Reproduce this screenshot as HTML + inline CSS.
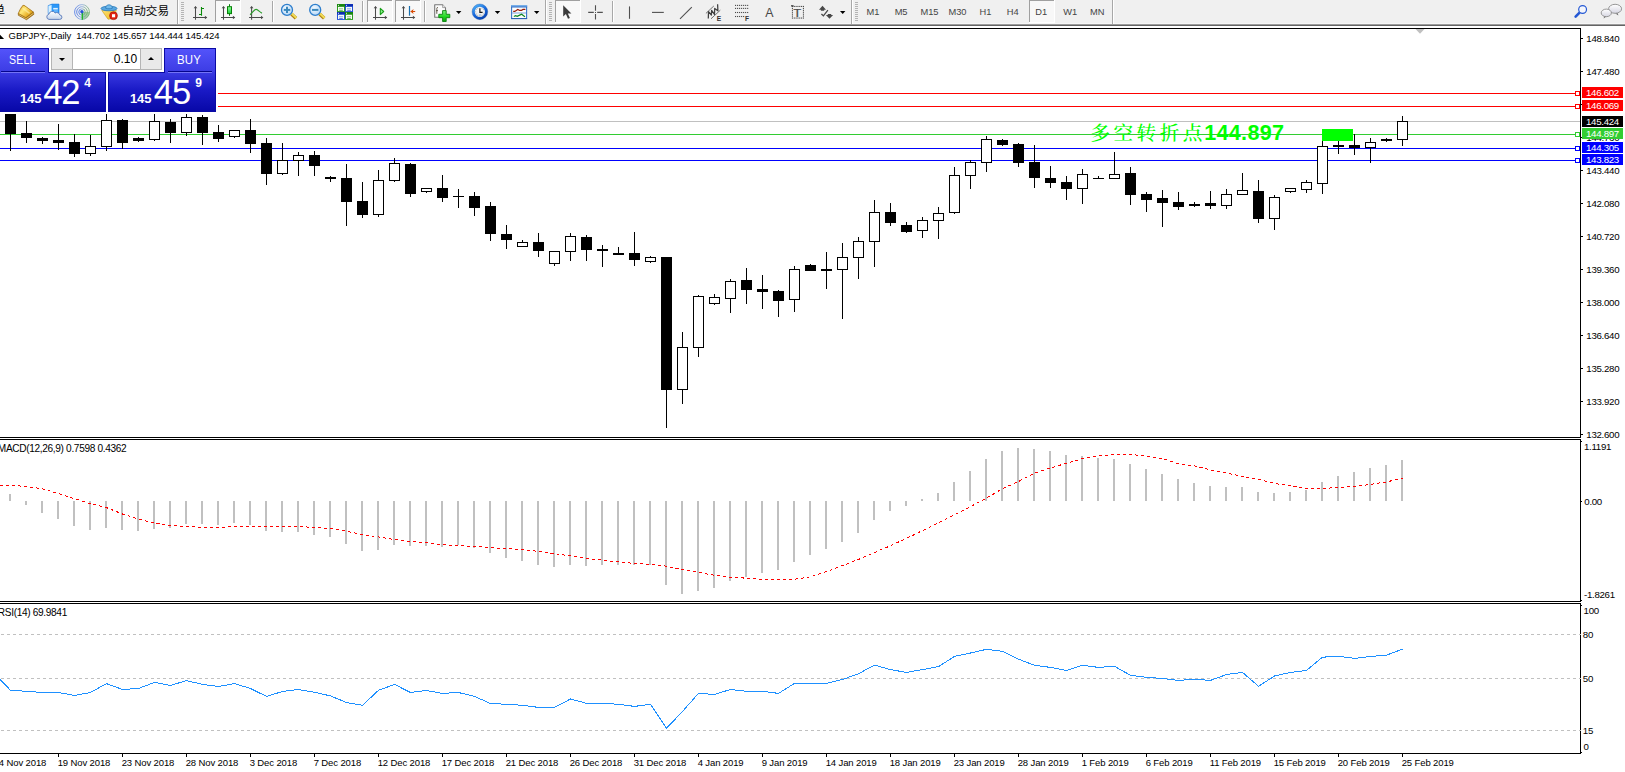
<!DOCTYPE html>
<html><head><meta charset="utf-8"><title>GBPJPY Daily</title>
<style>
html,body{margin:0;padding:0;background:#fff;}
body{width:1625px;height:772px;overflow:hidden;position:relative;font-family:"Liberation Sans", "Noto Sans CJK SC", sans-serif;}
#tb{position:absolute;left:0;top:0;width:1625px;height:24px;background:#f0f0f0;}
#tbl0{position:absolute;left:0;top:23px;width:1625px;height:1px;background:#f6f6f6;}
#tbl1{position:absolute;left:0;top:24px;width:1625px;height:1px;background:#9c9c9c;}
#tbl2{position:absolute;left:0;top:25px;width:1625px;height:1px;background:#646464;}
#chart{position:absolute;left:0;top:0;}
.ax{position:absolute;font-size:9.7px;line-height:11px;height:11px;white-space:nowrap;color:#000;letter-spacing:-0.3px;}
.dt{font-size:9.5px;letter-spacing:-0.12px;}
.bx{position:absolute;left:1582px;width:41px;height:11px;}
.ttl{font-size:9.5px;letter-spacing:-0.07px;}
.ind{font-size:10.1px;letter-spacing:-0.33px;}
.note{position:absolute;height:30px;line-height:30px;white-space:nowrap;color:#00ff00;}
.cj{font-family:"Liberation Serif","Noto Serif CJK SC",serif;font-weight:500;font-size:19.6px;letter-spacing:3.5px;}
.nm{font-family:"Liberation Sans",sans-serif;font-weight:bold;font-size:21.6px;letter-spacing:0.3px;}
#panel{position:absolute;left:0;top:0;}
.pb{position:absolute;}
.selltab{left:0;top:48px;width:49px;height:24px;background:linear-gradient(#5454fb,#3c3ce4);}
.buytab{left:164px;top:48px;width:52px;height:24px;background:linear-gradient(#5454fb,#3c3ce4);}
.sellbot{left:0;top:72px;width:106px;height:40px;background:linear-gradient(#3a3ae2,#1a1ac6 45%,#0707a6);}
.buybot{left:108px;top:72px;width:108px;height:40px;background:linear-gradient(#3a3ae2,#1a1ac6 45%,#0707a6);}
.sep{position:absolute;top:71px;height:1px;background:#04048c;border-bottom:1px solid #7474f6;}
.ptxt{position:absolute;color:#fff;font-size:12px;line-height:16px;letter-spacing:0.2px;transform-origin:0 50%;}
.lot{position:absolute;left:51px;top:48.4px;width:111px;height:22px;box-sizing:border-box;border:1px solid #a5a5a5;background:#fff;}
.lb{position:absolute;top:0;width:20px;height:20px;background:#e9e9e9;box-shadow:0 0 0 1px #b5b5b5;}
.lv{position:absolute;right:23.8px;top:3px;font-size:12px;line-height:15px;color:#000;}
.dn,.up{position:absolute;left:7px;width:0;height:0;border-left:3px solid transparent;border-right:3px solid transparent;}
.dn{top:8.2px;border-top:3.3px solid #000;}
.up{top:7.4px;border-bottom:3.3px solid #000;}
.sm{position:absolute;color:#fff;font-weight:bold;font-size:13px;line-height:15px;}
.sup{font-size:12px;}
.bg{position:absolute;color:#fff;font-size:34.6px;line-height:38px;letter-spacing:-1.1px;}
</style></head>
<body>
<svg id="chart" width="1625" height="772" viewBox="0 0 1625 772">
<g shape-rendering="crispEdges">
<rect x="218" y="93" width="1362" height="1" fill="#ff0000"/>
<rect x="218" y="106" width="1362" height="1" fill="#ff0000"/>
<rect x="0" y="121" width="1580" height="1" fill="#c0c0c0"/>
<rect x="0" y="134" width="1580" height="1" fill="#32cd32"/>
<rect x="0" y="148" width="1580" height="1" fill="#0000ff"/>
<rect x="0" y="160" width="1580" height="1" fill="#0000ff"/>
</g>
<g shape-rendering="crispEdges">
<rect x="10" y="114" width="1" height="37" fill="#000"/>
<rect x="5" y="114" width="11" height="20" fill="#000"/>
<rect x="26" y="121" width="1" height="22" fill="#000"/>
<rect x="21" y="133" width="11" height="5" fill="#000"/>
<rect x="42" y="137" width="1" height="7" fill="#000"/>
<rect x="37" y="138" width="11" height="3" fill="#000"/>
<rect x="58" y="124" width="1" height="26" fill="#000"/>
<rect x="53" y="140" width="11" height="3" fill="#000"/>
<rect x="74" y="134" width="1" height="23" fill="#000"/>
<rect x="69" y="142" width="11" height="12" fill="#000"/>
<rect x="90" y="135" width="1" height="21" fill="#000"/>
<rect x="85" y="146" width="11" height="8" fill="#000"/>
<rect x="86" y="147" width="9" height="6" fill="#fff"/>
<rect x="106" y="114" width="1" height="37" fill="#000"/>
<rect x="101" y="120" width="11" height="27" fill="#000"/>
<rect x="102" y="121" width="9" height="25" fill="#fff"/>
<rect x="122" y="119" width="1" height="30" fill="#000"/>
<rect x="117" y="120" width="11" height="23" fill="#000"/>
<rect x="138" y="137" width="1" height="5" fill="#000"/>
<rect x="133" y="138" width="11" height="3" fill="#000"/>
<rect x="154" y="114" width="1" height="27" fill="#000"/>
<rect x="149" y="121" width="11" height="19" fill="#000"/>
<rect x="150" y="122" width="9" height="17" fill="#fff"/>
<rect x="170" y="119" width="1" height="24" fill="#000"/>
<rect x="165" y="122" width="11" height="11" fill="#000"/>
<rect x="186" y="114" width="1" height="22" fill="#000"/>
<rect x="181" y="117" width="11" height="16" fill="#000"/>
<rect x="182" y="118" width="9" height="14" fill="#fff"/>
<rect x="202" y="115" width="1" height="30" fill="#000"/>
<rect x="197" y="117" width="11" height="16" fill="#000"/>
<rect x="218" y="125" width="1" height="17" fill="#000"/>
<rect x="213" y="132" width="11" height="7" fill="#000"/>
<rect x="234" y="130" width="1" height="8" fill="#000"/>
<rect x="229" y="130" width="11" height="7" fill="#000"/>
<rect x="230" y="131" width="9" height="5" fill="#fff"/>
<rect x="250" y="119" width="1" height="34" fill="#000"/>
<rect x="245" y="130" width="11" height="14" fill="#000"/>
<rect x="266" y="138" width="1" height="47" fill="#000"/>
<rect x="261" y="143" width="11" height="31" fill="#000"/>
<rect x="282" y="143" width="1" height="32" fill="#000"/>
<rect x="277" y="160" width="11" height="14" fill="#000"/>
<rect x="278" y="161" width="9" height="12" fill="#fff"/>
<rect x="298" y="152" width="1" height="24" fill="#000"/>
<rect x="293" y="155" width="11" height="6" fill="#000"/>
<rect x="294" y="156" width="9" height="4" fill="#fff"/>
<rect x="314" y="151" width="1" height="25" fill="#000"/>
<rect x="309" y="155" width="11" height="11" fill="#000"/>
<rect x="330" y="176" width="1" height="6" fill="#000"/>
<rect x="325" y="177" width="11" height="2" fill="#000"/>
<rect x="346" y="164" width="1" height="62" fill="#000"/>
<rect x="341" y="178" width="11" height="24" fill="#000"/>
<rect x="362" y="182" width="1" height="36" fill="#000"/>
<rect x="357" y="201" width="11" height="14" fill="#000"/>
<rect x="378" y="170" width="1" height="47" fill="#000"/>
<rect x="373" y="180" width="11" height="35" fill="#000"/>
<rect x="374" y="181" width="9" height="33" fill="#fff"/>
<rect x="394" y="158" width="1" height="24" fill="#000"/>
<rect x="389" y="163" width="11" height="18" fill="#000"/>
<rect x="390" y="164" width="9" height="16" fill="#fff"/>
<rect x="410" y="163" width="1" height="34" fill="#000"/>
<rect x="405" y="164" width="11" height="30" fill="#000"/>
<rect x="426" y="188" width="1" height="5" fill="#000"/>
<rect x="421" y="188" width="11" height="4" fill="#000"/>
<rect x="422" y="189" width="9" height="2" fill="#fff"/>
<rect x="442" y="175" width="1" height="27" fill="#000"/>
<rect x="437" y="188" width="11" height="10" fill="#000"/>
<rect x="458" y="189" width="1" height="19" fill="#000"/>
<rect x="453" y="196" width="11" height="1" fill="#000"/>
<rect x="474" y="192" width="1" height="24" fill="#000"/>
<rect x="469" y="196" width="11" height="12" fill="#000"/>
<rect x="490" y="202" width="1" height="39" fill="#000"/>
<rect x="485" y="206" width="11" height="28" fill="#000"/>
<rect x="506" y="225" width="1" height="24" fill="#000"/>
<rect x="501" y="234" width="11" height="6" fill="#000"/>
<rect x="522" y="240" width="1" height="7" fill="#000"/>
<rect x="517" y="242" width="11" height="5" fill="#000"/>
<rect x="518" y="243" width="9" height="3" fill="#fff"/>
<rect x="538" y="233" width="1" height="24" fill="#000"/>
<rect x="533" y="242" width="11" height="9" fill="#000"/>
<rect x="554" y="251" width="1" height="15" fill="#000"/>
<rect x="549" y="251" width="11" height="13" fill="#000"/>
<rect x="550" y="252" width="9" height="11" fill="#fff"/>
<rect x="570" y="233" width="1" height="28" fill="#000"/>
<rect x="565" y="236" width="11" height="16" fill="#000"/>
<rect x="566" y="237" width="9" height="14" fill="#fff"/>
<rect x="586" y="235" width="1" height="26" fill="#000"/>
<rect x="581" y="237" width="11" height="13" fill="#000"/>
<rect x="602" y="245" width="1" height="22" fill="#000"/>
<rect x="597" y="249" width="11" height="2" fill="#000"/>
<rect x="618" y="247" width="1" height="8" fill="#000"/>
<rect x="613" y="253" width="11" height="2" fill="#000"/>
<rect x="634" y="232" width="1" height="34" fill="#000"/>
<rect x="629" y="253" width="11" height="7" fill="#000"/>
<rect x="650" y="256" width="1" height="7" fill="#000"/>
<rect x="645" y="257" width="11" height="5" fill="#000"/>
<rect x="646" y="258" width="9" height="3" fill="#fff"/>
<rect x="666" y="257" width="1" height="171" fill="#000"/>
<rect x="661" y="257" width="11" height="133" fill="#000"/>
<rect x="682" y="332" width="1" height="72" fill="#000"/>
<rect x="677" y="347" width="11" height="43" fill="#000"/>
<rect x="678" y="348" width="9" height="41" fill="#fff"/>
<rect x="698" y="295" width="1" height="62" fill="#000"/>
<rect x="693" y="296" width="11" height="52" fill="#000"/>
<rect x="694" y="297" width="9" height="50" fill="#fff"/>
<rect x="714" y="294" width="1" height="11" fill="#000"/>
<rect x="709" y="297" width="11" height="7" fill="#000"/>
<rect x="710" y="298" width="9" height="5" fill="#fff"/>
<rect x="730" y="279" width="1" height="34" fill="#000"/>
<rect x="725" y="281" width="11" height="18" fill="#000"/>
<rect x="726" y="282" width="9" height="16" fill="#fff"/>
<rect x="746" y="268" width="1" height="36" fill="#000"/>
<rect x="741" y="280" width="11" height="10" fill="#000"/>
<rect x="762" y="275" width="1" height="34" fill="#000"/>
<rect x="757" y="289" width="11" height="3" fill="#000"/>
<rect x="778" y="290" width="1" height="27" fill="#000"/>
<rect x="773" y="291" width="11" height="10" fill="#000"/>
<rect x="794" y="266" width="1" height="46" fill="#000"/>
<rect x="789" y="269" width="11" height="31" fill="#000"/>
<rect x="790" y="270" width="9" height="29" fill="#fff"/>
<rect x="810" y="264" width="1" height="7" fill="#000"/>
<rect x="805" y="265" width="11" height="6" fill="#000"/>
<rect x="826" y="252" width="1" height="37" fill="#000"/>
<rect x="821" y="269" width="11" height="2" fill="#000"/>
<rect x="842" y="243" width="1" height="76" fill="#000"/>
<rect x="837" y="257" width="11" height="13" fill="#000"/>
<rect x="838" y="258" width="9" height="11" fill="#fff"/>
<rect x="858" y="237" width="1" height="42" fill="#000"/>
<rect x="853" y="241" width="11" height="17" fill="#000"/>
<rect x="854" y="242" width="9" height="15" fill="#fff"/>
<rect x="874" y="200" width="1" height="67" fill="#000"/>
<rect x="869" y="212" width="11" height="30" fill="#000"/>
<rect x="870" y="213" width="9" height="28" fill="#fff"/>
<rect x="890" y="203" width="1" height="23" fill="#000"/>
<rect x="885" y="212" width="11" height="11" fill="#000"/>
<rect x="906" y="222" width="1" height="11" fill="#000"/>
<rect x="901" y="225" width="11" height="7" fill="#000"/>
<rect x="922" y="217" width="1" height="21" fill="#000"/>
<rect x="917" y="220" width="11" height="11" fill="#000"/>
<rect x="918" y="221" width="9" height="9" fill="#fff"/>
<rect x="938" y="207" width="1" height="32" fill="#000"/>
<rect x="933" y="213" width="11" height="8" fill="#000"/>
<rect x="934" y="214" width="9" height="6" fill="#fff"/>
<rect x="954" y="167" width="1" height="47" fill="#000"/>
<rect x="949" y="175" width="11" height="38" fill="#000"/>
<rect x="950" y="176" width="9" height="36" fill="#fff"/>
<rect x="970" y="160" width="1" height="29" fill="#000"/>
<rect x="965" y="162" width="11" height="14" fill="#000"/>
<rect x="966" y="163" width="9" height="12" fill="#fff"/>
<rect x="986" y="136" width="1" height="36" fill="#000"/>
<rect x="981" y="139" width="11" height="24" fill="#000"/>
<rect x="982" y="140" width="9" height="22" fill="#fff"/>
<rect x="1002" y="139" width="1" height="7" fill="#000"/>
<rect x="997" y="140" width="11" height="5" fill="#000"/>
<rect x="1018" y="143" width="1" height="24" fill="#000"/>
<rect x="1013" y="144" width="11" height="19" fill="#000"/>
<rect x="1034" y="145" width="1" height="43" fill="#000"/>
<rect x="1029" y="162" width="11" height="16" fill="#000"/>
<rect x="1050" y="166" width="1" height="22" fill="#000"/>
<rect x="1045" y="178" width="11" height="5" fill="#000"/>
<rect x="1066" y="176" width="1" height="24" fill="#000"/>
<rect x="1061" y="182" width="11" height="7" fill="#000"/>
<rect x="1082" y="169" width="1" height="35" fill="#000"/>
<rect x="1077" y="174" width="11" height="15" fill="#000"/>
<rect x="1078" y="175" width="9" height="13" fill="#fff"/>
<rect x="1098" y="176" width="1" height="3" fill="#000"/>
<rect x="1093" y="178" width="11" height="1" fill="#000"/>
<rect x="1114" y="152" width="1" height="27" fill="#000"/>
<rect x="1109" y="174" width="11" height="5" fill="#000"/>
<rect x="1110" y="175" width="9" height="3" fill="#fff"/>
<rect x="1130" y="167" width="1" height="38" fill="#000"/>
<rect x="1125" y="173" width="11" height="22" fill="#000"/>
<rect x="1146" y="192" width="1" height="20" fill="#000"/>
<rect x="1141" y="194" width="11" height="6" fill="#000"/>
<rect x="1162" y="190" width="1" height="37" fill="#000"/>
<rect x="1157" y="198" width="11" height="5" fill="#000"/>
<rect x="1178" y="192" width="1" height="18" fill="#000"/>
<rect x="1173" y="202" width="11" height="5" fill="#000"/>
<rect x="1194" y="202" width="1" height="5" fill="#000"/>
<rect x="1189" y="204" width="11" height="2" fill="#000"/>
<rect x="1210" y="191" width="1" height="18" fill="#000"/>
<rect x="1205" y="203" width="11" height="3" fill="#000"/>
<rect x="1226" y="189" width="1" height="20" fill="#000"/>
<rect x="1221" y="194" width="11" height="12" fill="#000"/>
<rect x="1222" y="195" width="9" height="10" fill="#fff"/>
<rect x="1242" y="173" width="1" height="22" fill="#000"/>
<rect x="1237" y="190" width="11" height="5" fill="#000"/>
<rect x="1238" y="191" width="9" height="3" fill="#fff"/>
<rect x="1258" y="180" width="1" height="43" fill="#000"/>
<rect x="1253" y="191" width="11" height="28" fill="#000"/>
<rect x="1274" y="195" width="1" height="35" fill="#000"/>
<rect x="1269" y="197" width="11" height="22" fill="#000"/>
<rect x="1270" y="198" width="9" height="20" fill="#fff"/>
<rect x="1290" y="188" width="1" height="5" fill="#000"/>
<rect x="1285" y="188" width="11" height="4" fill="#000"/>
<rect x="1286" y="189" width="9" height="2" fill="#fff"/>
<rect x="1306" y="180" width="1" height="13" fill="#000"/>
<rect x="1301" y="182" width="11" height="8" fill="#000"/>
<rect x="1302" y="183" width="9" height="6" fill="#fff"/>
<rect x="1322" y="141" width="1" height="53" fill="#000"/>
<rect x="1317" y="146" width="11" height="38" fill="#000"/>
<rect x="1318" y="147" width="9" height="36" fill="#fff"/>
<rect x="1338" y="141" width="1" height="13" fill="#000"/>
<rect x="1333" y="145" width="11" height="2" fill="#000"/>
<rect x="1354" y="134" width="1" height="21" fill="#000"/>
<rect x="1349" y="145" width="11" height="3" fill="#000"/>
<rect x="1370" y="138" width="1" height="25" fill="#000"/>
<rect x="1365" y="142" width="11" height="6" fill="#000"/>
<rect x="1366" y="143" width="9" height="4" fill="#fff"/>
<rect x="1386" y="138" width="1" height="4" fill="#000"/>
<rect x="1381" y="139" width="11" height="2" fill="#000"/>
<rect x="1402" y="116" width="1" height="30" fill="#000"/>
<rect x="1397" y="121" width="11" height="19" fill="#000"/>
<rect x="1398" y="122" width="9" height="17" fill="#fff"/>
</g>
<rect x="1322" y="129" width="31" height="12" fill="#00ff00" shape-rendering="crispEdges"/>
<g shape-rendering="crispEdges" fill="#c0c0c0">
<rect x="9" y="494" width="2" height="7"/>
<rect x="25" y="501" width="2" height="4"/>
<rect x="41" y="501" width="2" height="12"/>
<rect x="57" y="501" width="2" height="18"/>
<rect x="73" y="501" width="2" height="25"/>
<rect x="89" y="501" width="2" height="29"/>
<rect x="105" y="501" width="2" height="27"/>
<rect x="121" y="501" width="2" height="29"/>
<rect x="137" y="501" width="2" height="30"/>
<rect x="153" y="501" width="2" height="28"/>
<rect x="169" y="501" width="2" height="27"/>
<rect x="185" y="501" width="2" height="23"/>
<rect x="201" y="501" width="2" height="23"/>
<rect x="217" y="501" width="2" height="24"/>
<rect x="233" y="501" width="2" height="22"/>
<rect x="249" y="501" width="2" height="24"/>
<rect x="265" y="501" width="2" height="30"/>
<rect x="281" y="501" width="2" height="31"/>
<rect x="297" y="501" width="2" height="31"/>
<rect x="313" y="501" width="2" height="34"/>
<rect x="329" y="501" width="2" height="36"/>
<rect x="345" y="501" width="2" height="43"/>
<rect x="361" y="501" width="2" height="50"/>
<rect x="377" y="501" width="2" height="49"/>
<rect x="393" y="501" width="2" height="44"/>
<rect x="409" y="501" width="2" height="45"/>
<rect x="425" y="501" width="2" height="45"/>
<rect x="441" y="501" width="2" height="46"/>
<rect x="457" y="501" width="2" height="44"/>
<rect x="473" y="501" width="2" height="47"/>
<rect x="489" y="501" width="2" height="52"/>
<rect x="505" y="501" width="2" height="57"/>
<rect x="521" y="501" width="2" height="60"/>
<rect x="537" y="501" width="2" height="64"/>
<rect x="553" y="501" width="2" height="66"/>
<rect x="569" y="501" width="2" height="64"/>
<rect x="585" y="501" width="2" height="65"/>
<rect x="601" y="501" width="2" height="64"/>
<rect x="617" y="501" width="2" height="64"/>
<rect x="633" y="501" width="2" height="64"/>
<rect x="649" y="501" width="2" height="64"/>
<rect x="665" y="501" width="2" height="84"/>
<rect x="681" y="501" width="2" height="93"/>
<rect x="697" y="501" width="2" height="90"/>
<rect x="713" y="501" width="2" height="87"/>
<rect x="729" y="501" width="2" height="80"/>
<rect x="745" y="501" width="2" height="76"/>
<rect x="761" y="501" width="2" height="72"/>
<rect x="777" y="501" width="2" height="69"/>
<rect x="793" y="501" width="2" height="61"/>
<rect x="809" y="501" width="2" height="54"/>
<rect x="825" y="501" width="2" height="48"/>
<rect x="841" y="501" width="2" height="41"/>
<rect x="857" y="501" width="2" height="32"/>
<rect x="873" y="501" width="2" height="19"/>
<rect x="889" y="501" width="2" height="10"/>
<rect x="905" y="501" width="2" height="5"/>
<rect x="921" y="499" width="2" height="2"/>
<rect x="937" y="493" width="2" height="8"/>
<rect x="953" y="482" width="2" height="19"/>
<rect x="969" y="471" width="2" height="30"/>
<rect x="985" y="459" width="2" height="42"/>
<rect x="1001" y="451" width="2" height="50"/>
<rect x="1017" y="448" width="2" height="53"/>
<rect x="1033" y="449" width="2" height="52"/>
<rect x="1049" y="451" width="2" height="50"/>
<rect x="1065" y="455" width="2" height="46"/>
<rect x="1081" y="456" width="2" height="45"/>
<rect x="1097" y="458" width="2" height="43"/>
<rect x="1113" y="459" width="2" height="42"/>
<rect x="1129" y="464" width="2" height="37"/>
<rect x="1145" y="469" width="2" height="32"/>
<rect x="1161" y="474" width="2" height="27"/>
<rect x="1177" y="479" width="2" height="22"/>
<rect x="1193" y="483" width="2" height="18"/>
<rect x="1209" y="486" width="2" height="15"/>
<rect x="1225" y="487" width="2" height="14"/>
<rect x="1241" y="487" width="2" height="14"/>
<rect x="1257" y="492" width="2" height="9"/>
<rect x="1273" y="493" width="2" height="8"/>
<rect x="1289" y="492" width="2" height="9"/>
<rect x="1305" y="490" width="2" height="11"/>
<rect x="1321" y="482" width="2" height="19"/>
<rect x="1337" y="476" width="2" height="25"/>
<rect x="1353" y="472" width="2" height="29"/>
<rect x="1369" y="468" width="2" height="33"/>
<rect x="1385" y="465" width="2" height="36"/>
<rect x="1401" y="460" width="2" height="41"/>
</g>
<polyline points="0,486.0 10.5,485.4 26.5,486.4 42.5,488.9 58.5,493.5 74.5,498.7 90.5,503.8 106.5,507.6 122.5,514.0 138.5,519.2 154.5,522.9 170.5,525.4 186.5,526.4 202.5,527.5 218.5,527.5 234.5,526.4 250.5,526.4 266.5,526.4 282.5,526.4 298.5,526.4 314.5,527.5 330.5,528.5 346.5,531.2 362.5,534.5 378.5,537.0 394.5,539.5 410.5,541.6 426.5,542.6 442.5,544.7 458.5,545.5 474.5,546.5 490.5,547.6 506.5,548.6 522.5,549.4 538.5,551.5 554.5,553.6 570.5,556.0 586.5,558.5 602.5,560.2 618.5,561.9 634.5,563.5 650.5,564.5 666.5,566.2 682.5,569.8 698.5,572.4 714.5,575.3 730.5,577.2 746.5,578.2 762.5,579.3 778.5,579.3 794.5,579.3 810.5,576.8 826.5,571.6 842.5,565.6 858.5,559.4 874.5,552.5 890.5,545.7 906.5,538.4 922.5,530.6 938.5,522.9 954.5,514.6 970.5,506.7 986.5,498.0 1002.5,488.7 1018.5,481.5 1034.5,473.2 1050.5,468.0 1066.5,463.2 1082.5,458.7 1098.5,456.0 1114.5,454.5 1130.5,454.5 1146.5,456.0 1162.5,458.7 1178.5,463.8 1194.5,465.9 1210.5,470.0 1226.5,473.2 1242.5,476.3 1258.5,479.4 1274.5,483.5 1290.5,485.8 1306.5,488.5 1322.5,488.5 1338.5,487.5 1354.5,486.4 1370.5,484.4 1386.5,481.9 1402.5,478.3" fill="none" stroke="#ff0000" stroke-width="1" stroke-dasharray="3 3" shape-rendering="crispEdges"/>
<g shape-rendering="crispEdges" stroke="#c0c0c0" stroke-width="1" stroke-dasharray="3 3">
<line x1="1" y1="634.5" x2="1580" y2="634.5"/>
<line x1="1" y1="678.5" x2="1580" y2="678.5"/>
<line x1="1" y1="730.5" x2="1580" y2="730.5"/>
</g>
<polyline points="0,679.3 10.5,690.3 26.5,691.3 42.5,692.5 58.5,692.5 74.5,695.4 90.5,692.5 106.5,683.6 122.5,689.5 138.5,688.5 154.5,682.4 170.5,685.4 186.5,680.6 202.5,684.4 218.5,686.5 234.5,683.6 250.5,688.5 266.5,696.4 282.5,691.5 298.5,689.5 314.5,692.3 330.5,695.9 346.5,702.5 362.5,705.3 378.5,690.3 394.5,684.4 410.5,692.5 426.5,690.5 442.5,693.4 458.5,692.5 474.5,696.4 490.5,703.5 506.5,704.3 522.5,705.3 538.5,707.4 554.5,707.4 570.5,699.0 586.5,703.3 602.5,703.3 618.5,704.3 634.5,706.4 650.5,704.3 666.5,728.3 682.5,711.4 698.5,693.4 714.5,694.4 730.5,689.5 746.5,691.3 762.5,691.3 778.5,693.4 794.5,683.4 810.5,683.4 826.5,683.4 842.5,679.5 858.5,673.7 874.5,665.1 890.5,669.6 906.5,672.4 922.5,669.6 938.5,666.6 954.5,656.4 970.5,653.0 986.5,649.3 1002.5,651.3 1018.5,659.2 1034.5,665.3 1050.5,667.4 1066.5,670.4 1082.5,665.3 1098.5,667.4 1114.5,666.3 1130.5,675.3 1146.5,677.3 1162.5,678.5 1178.5,680.4 1194.5,679.3 1210.5,680.4 1226.5,674.5 1242.5,672.4 1258.5,686.3 1274.5,676.0 1290.5,672.4 1306.5,670.4 1322.5,657.2 1338.5,656.2 1354.5,658.4 1370.5,656.4 1386.5,655.2 1402.5,649.1" fill="none" stroke="#1e90ff" stroke-width="1" stroke-linejoin="round" shape-rendering="crispEdges"/>
<g shape-rendering="crispEdges" fill="#000">
<rect x="0" y="28" width="1581" height="1"/>
<rect x="0" y="437" width="1581" height="1"/>
<rect x="0" y="439" width="1581" height="1"/>
<rect x="0" y="601" width="1581" height="1"/>
<rect x="0" y="603" width="1581" height="1"/>
<rect x="0" y="753" width="1581" height="1"/>
<rect x="1580" y="28" width="1" height="410"/>
<rect x="1580" y="439" width="1" height="163"/>
<rect x="1580" y="603" width="1" height="151"/>
<rect x="1581" y="38" width="2" height="1"/>
<rect x="1581" y="71" width="2" height="1"/>
<rect x="1581" y="104" width="2" height="1"/>
<rect x="1581" y="137" width="2" height="1"/>
<rect x="1581" y="170" width="2" height="1"/>
<rect x="1581" y="203" width="2" height="1"/>
<rect x="1581" y="236" width="2" height="1"/>
<rect x="1581" y="269" width="2" height="1"/>
<rect x="1581" y="302" width="2" height="1"/>
<rect x="1581" y="335" width="2" height="1"/>
<rect x="1581" y="368" width="2" height="1"/>
<rect x="1581" y="401" width="2" height="1"/>
<rect x="1581" y="434" width="2" height="1"/>
<rect x="1581" y="441" width="1" height="1"/>
<rect x="1581" y="501" width="1" height="1"/>
<rect x="1581" y="600" width="1" height="1"/>
<rect x="1581" y="605" width="1" height="1"/>
<rect x="1581" y="752" width="1" height="1"/>
<rect x="58" y="753" width="1" height="4"/>
<rect x="122" y="753" width="1" height="4"/>
<rect x="186" y="753" width="1" height="4"/>
<rect x="250" y="753" width="1" height="4"/>
<rect x="314" y="753" width="1" height="4"/>
<rect x="378" y="753" width="1" height="4"/>
<rect x="442" y="753" width="1" height="4"/>
<rect x="506" y="753" width="1" height="4"/>
<rect x="570" y="753" width="1" height="4"/>
<rect x="634" y="753" width="1" height="4"/>
<rect x="698" y="753" width="1" height="4"/>
<rect x="762" y="753" width="1" height="4"/>
<rect x="826" y="753" width="1" height="4"/>
<rect x="890" y="753" width="1" height="4"/>
<rect x="954" y="753" width="1" height="4"/>
<rect x="1018" y="753" width="1" height="4"/>
<rect x="1082" y="753" width="1" height="4"/>
<rect x="1146" y="753" width="1" height="4"/>
<rect x="1210" y="753" width="1" height="4"/>
<rect x="1274" y="753" width="1" height="4"/>
<rect x="1338" y="753" width="1" height="4"/>
<rect x="1402" y="753" width="1" height="4"/>
</g>
<rect x="1580" y="634" width="1" height="1" fill="#c0c0c0" shape-rendering="crispEdges"/>
<rect x="1580" y="678" width="1" height="1" fill="#c0c0c0" shape-rendering="crispEdges"/>
<rect x="1580" y="730" width="1" height="1" fill="#c0c0c0" shape-rendering="crispEdges"/>
<polygon points="1415.5,29 1424.5,29 1420,33.8" fill="#c0c0c0"/>
<g shape-rendering="crispEdges">
<rect x="1575.5" y="91.5" width="4" height="4" fill="#fff" stroke="#ff0000" stroke-width="1"/>
<rect x="1575.5" y="104.5" width="4" height="4" fill="#fff" stroke="#ff0000" stroke-width="1"/>
<rect x="1575.5" y="132.5" width="4" height="4" fill="#fff" stroke="#32cd32" stroke-width="1"/>
<rect x="1575.5" y="146.5" width="4" height="4" fill="#fff" stroke="#0000ff" stroke-width="1"/>
<rect x="1575.5" y="158.5" width="4" height="4" fill="#fff" stroke="#0000ff" stroke-width="1"/>
</g>
<polygon points="0,34.8 4.1,39 0,39" fill="#000"/>
</svg>
<div class="note cj" style="left:1090.4px;top:119px;">多空转折点</div><div class="note nm" style="left:1204.2px;top:117.9px;">144.897</div>
<div class="ax" style="left:1586.3px;top:33.3px;">148.840</div>
<div class="ax" style="left:1586.3px;top:66.3px;">147.480</div>
<div class="ax" style="left:1586.3px;top:99.3px;">146.120</div>
<div class="ax" style="left:1586.3px;top:132.3px;">144.760</div>
<div class="ax" style="left:1586.3px;top:165.3px;">143.440</div>
<div class="ax" style="left:1586.3px;top:198.3px;">142.080</div>
<div class="ax" style="left:1586.3px;top:231.3px;">140.720</div>
<div class="ax" style="left:1586.3px;top:264.3px;">139.360</div>
<div class="ax" style="left:1586.3px;top:297.3px;">138.000</div>
<div class="ax" style="left:1586.3px;top:330.3px;">136.640</div>
<div class="ax" style="left:1586.3px;top:363.3px;">135.280</div>
<div class="ax" style="left:1586.3px;top:396.3px;">133.920</div>
<div class="ax" style="left:1586.3px;top:429.3px;">132.600</div>
<div class="bx" style="top:87px;background:#ff0000;"></div>
<div class="ax" style="left:1586.0px;top:86.9px;color:#fff;">146.602</div>
<div class="bx" style="top:100px;background:#ff0000;"></div>
<div class="ax" style="left:1586.0px;top:99.9px;color:#fff;">146.069</div>
<div class="bx" style="top:116px;background:#000000;"></div>
<div class="ax" style="left:1586.0px;top:115.60000000000001px;color:#fff;">145.424</div>
<div class="bx" style="top:128px;background:#32cd32;"></div>
<div class="ax" style="left:1586.0px;top:127.9px;color:#fff;">144.897</div>
<div class="bx" style="top:142px;background:#0000ff;"></div>
<div class="ax" style="left:1586.0px;top:141.9px;color:#fff;">144.305</div>
<div class="bx" style="top:154px;background:#0000ff;"></div>
<div class="ax" style="left:1586.0px;top:153.9px;color:#fff;">143.823</div>
<div class="ax" style="left:1584.0px;top:441.3px;">1.1191</div>
<div class="ax" style="left:1584.3px;top:496px;">0.00</div>
<div class="ax" style="left:1584px;top:589.3px;">-1.8261</div>
<div class="ax" style="left:1583.6px;top:605.2px;">100</div>
<div class="ax" style="left:1582.8px;top:629px;">80</div>
<div class="ax" style="left:1582.8px;top:673px;">50</div>
<div class="ax" style="left:1582.8px;top:725px;">15</div>
<div class="ax" style="left:1583.4px;top:741.2px;">0</div>
<div class="ax dt" style="left:-6.3px;top:757.2px;">14 Nov 2018</div>
<div class="ax dt" style="left:57.7px;top:757.2px;">19 Nov 2018</div>
<div class="ax dt" style="left:121.7px;top:757.2px;">23 Nov 2018</div>
<div class="ax dt" style="left:185.7px;top:757.2px;">28 Nov 2018</div>
<div class="ax dt" style="left:249.7px;top:757.2px;">3 Dec 2018</div>
<div class="ax dt" style="left:313.7px;top:757.2px;">7 Dec 2018</div>
<div class="ax dt" style="left:377.7px;top:757.2px;">12 Dec 2018</div>
<div class="ax dt" style="left:441.7px;top:757.2px;">17 Dec 2018</div>
<div class="ax dt" style="left:505.7px;top:757.2px;">21 Dec 2018</div>
<div class="ax dt" style="left:569.7px;top:757.2px;">26 Dec 2018</div>
<div class="ax dt" style="left:633.7px;top:757.2px;">31 Dec 2018</div>
<div class="ax dt" style="left:697.7px;top:757.2px;">4 Jan 2019</div>
<div class="ax dt" style="left:761.7px;top:757.2px;">9 Jan 2019</div>
<div class="ax dt" style="left:825.7px;top:757.2px;">14 Jan 2019</div>
<div class="ax dt" style="left:889.7px;top:757.2px;">18 Jan 2019</div>
<div class="ax dt" style="left:953.7px;top:757.2px;">23 Jan 2019</div>
<div class="ax dt" style="left:1017.7px;top:757.2px;">28 Jan 2019</div>
<div class="ax dt" style="left:1081.7px;top:757.2px;">1 Feb 2019</div>
<div class="ax dt" style="left:1145.7px;top:757.2px;">6 Feb 2019</div>
<div class="ax dt" style="left:1209.7px;top:757.2px;">11 Feb 2019</div>
<div class="ax dt" style="left:1273.7px;top:757.2px;">15 Feb 2019</div>
<div class="ax dt" style="left:1337.7px;top:757.2px;">20 Feb 2019</div>
<div class="ax dt" style="left:1401.7px;top:757.2px;">25 Feb 2019</div>
<div class="ax ttl" style="left:8.6px;top:30.200000000000003px;">GBPJPY-,Daily&nbsp; 144.702 145.657 144.444 145.424</div>
<div class="ax ind" style="left:-2.2px;top:443.2px;">MACD(12,26,9) 0.7598 0.4362</div>
<div class="ax ind" style="left:-2.2px;top:607.2px;">RSI(14) 69.9841</div>

<div id="panel">
  <div class="pb" style="left:0;top:48px;width:216px;height:64px;background:#fff"></div>
  <div class="pb sellbot"></div>
  <div class="pb buybot"></div>
  <div class="pb selltab"></div>
  <div class="pb buytab"></div>
  <svg width="220" height="114" style="position:absolute;left:0;top:0" shape-rendering="crispEdges"><path d="M0 48.5H48.5V72.5H105.5V111.5H0M164.5 72.5V48.5H215.5V111.5H108.5V72.5H164.5" fill="none" stroke="#0a0aa4" stroke-width="1"/></svg>
  <div class="sep" style="left:1px;width:44px"></div>
  <div class="sep" style="left:168px;width:44px"></div>
  <div class="ptxt" style="left:9.2px;top:51.8px;transform:scaleX(.885);">SELL</div>
  <div class="ptxt" style="left:176.8px;top:51.8px;transform:scaleX(.955);">BUY</div>
  <div class="lot">
    <div class="lb" style="left:0"><i class="dn"></i></div>
    <div class="lv">0.10</div>
    <div class="lb" style="right:0"><i class="up"></i></div>
  </div>
  <div class="sm" style="left:19.9px;top:90.6px;">145</div>
  <div class="bg" style="left:43.2px;top:72.9px;">42</div>
  <div class="sm sup" style="left:84.2px;top:75.6px;">4</div>
  <div class="sm" style="left:129.9px;top:90.6px;">145</div>
  <div class="bg" style="left:153.8px;top:72.9px;">45</div>
  <div class="sm sup" style="left:195.3px;top:75.6px;">9</div>
</div>

<div id="tb"></div><div id="tbl0"></div><div id="tbl1"></div><div id="tbl2"></div>
<svg id="tbi" width="1625" height="26" viewBox="0 0 1625 26" style="position:absolute;left:0;top:0">
<defs>
<linearGradient id="gold" x1="0" y1="0.1" x2="1" y2="0.9"><stop offset="0" stop-color="#e8b030"/><stop offset="0.35" stop-color="#ffe878"/><stop offset="0.7" stop-color="#e8b028"/><stop offset="1" stop-color="#c48c14"/></linearGradient>
<linearGradient id="sig" x1="0" y1="0" x2="1" y2="0"><stop offset="0" stop-color="#3c6ce4"/><stop offset="0.5" stop-color="#88a8dc"/><stop offset="1" stop-color="#68a868"/></linearGradient>
<linearGradient id="yel" x1="0" y1="0" x2="1" y2="1"><stop offset="0" stop-color="#fce070"/><stop offset="1" stop-color="#f0b820"/></linearGradient>
<linearGradient id="blu" x1="0" y1="0" x2="0" y2="1"><stop offset="0" stop-color="#6db4f0"/><stop offset="1" stop-color="#1f6fd0"/></linearGradient>
<linearGradient id="cld" x1="0" y1="0" x2="0" y2="1"><stop offset="0" stop-color="#ffffff"/><stop offset="1" stop-color="#c4d4ea"/></linearGradient>
<linearGradient id="cnd" x1="0" y1="0" x2="0" y2="1"><stop offset="0" stop-color="#90ff98"/><stop offset="1" stop-color="#18d038"/></linearGradient>
<linearGradient id="ring" x1="0.2" y1="0" x2="0.8" y2="1"><stop offset="0" stop-color="#48a8f4"/><stop offset="0.5" stop-color="#1868dc"/><stop offset="1" stop-color="#0a44b0"/></linearGradient>
<radialGradient id="face" cx="0.5" cy="0.4" r="0.6"><stop offset="0" stop-color="#ffffff"/><stop offset="1" stop-color="#dcdcdc"/></radialGradient>
<linearGradient id="ttl" x1="0" y1="0" x2="0" y2="1"><stop offset="0" stop-color="#8cc0f0"/><stop offset="1" stop-color="#2c6cc8"/></linearGradient>
<linearGradient id="grn" x1="0" y1="0" x2="0" y2="1"><stop offset="0" stop-color="#7cf07c"/><stop offset="0.55" stop-color="#22d822"/><stop offset="1" stop-color="#10a010"/></linearGradient>
<radialGradient id="lens" cx="0.4" cy="0.35" r="0.7"><stop offset="0" stop-color="#f2f9ff"/><stop offset="1" stop-color="#b4d6f6"/></radialGradient>
<linearGradient id="bub" x1="0" y1="0" x2="0" y2="1"><stop offset="0" stop-color="#ffffff"/><stop offset="1" stop-color="#d6d6e2"/></linearGradient>
</defs>
<path d="M18.3 13.4L25.8 17.7L33.3 12L33.9 14.3L26.5 19.7L18.4 15.3Z" fill="#b47c14" stroke="#8a5a0a" stroke-width="0.7" stroke-linejoin="round"/>
<path d="M18.8 14.5L26.2 18.7L33.5 13.2" fill="none" stroke="#f4dc88" stroke-width="0.7"/>
<path d="M24 5.3C27 7.4 30.4 9.8 33.3 12L25.8 17.7L18.3 13.4C19.4 10.8 20.6 8.4 22 6.4C22.6 5.6 23.4 5.2 24 5.3Z" fill="url(#gold)" stroke="#a06c0c" stroke-width="0.8" stroke-linejoin="round"/>
<path d="M22.6 8.2L29.6 13.4" fill="none" stroke="#fff6b8" stroke-width="1.6" opacity="0.55"/>
<path d="M48.2 5.6L52 4.1H59V13.6H48.2Z" fill="#2c98f8" stroke="#1c78dc" stroke-width="0.6"/>
<path d="M48.4 5.8L51.6 5V13.4H48.4Z" fill="#d8f0ff"/>
<rect x="53.2" y="7.9" width="4.6" height="1.6" fill="#e8f6ff" opacity="0.95"/>
<rect x="54" y="10.6" width="3.8" height="0.8" fill="#bfe2ff" opacity="0.9"/>
<path d="M49 19.4a2.6 2.6 0 0 1-0.2-5.1a3.5 3.5 0 0 1 6.4-1.3a3.1 3.1 0 0 1 4.6 2a2.2 2.2 0 0 1-0.2 4.4Z" fill="url(#cld)" stroke="#5878b8" stroke-width="0.9"/>
<path d="M82 12V19.7A7.7 7.7 0 0 0 89.7 12Z" fill="#58b058" opacity="0.5"/>
<circle cx="82" cy="12" r="7.4" fill="none" stroke="url(#sig)" stroke-width="1" opacity="0.75"/>
<circle cx="82" cy="12" r="5.3" fill="none" stroke="url(#sig)" stroke-width="1" opacity="0.8"/>
<circle cx="82" cy="12" r="3.2" fill="none" stroke="url(#sig)" stroke-width="1" opacity="0.85"/>
<path d="M82.3 12V19.7" stroke="#20b428" stroke-width="1.4"/>
<circle cx="81.9" cy="11.7" r="1.7" fill="#2454d4"/>
<path d="M101.8 10.4L116.4 10.4L111.6 18.8L108 19.2Z" fill="url(#yel)" stroke="#c89c18" stroke-width="0.6" stroke-linejoin="round"/>
<ellipse cx="109" cy="8.5" rx="8" ry="2.3" fill="#5aa8e2" stroke="#2878b8" stroke-width="0.8"/>
<path d="M105.6 8.2C105.6 3.7 112.4 3.7 112.4 8.2C110.4 9 107.6 9 105.6 8.2Z" fill="#74bcec" stroke="#2878b8" stroke-width="0.8"/>
<circle cx="113.5" cy="15.7" r="3.9" fill="#e42410" stroke="#a41408" stroke-width="0.7"/>
<rect x="112" y="14.2" width="3.1" height="3.1" fill="#fff"/>
<rect x="177" y="0" width="1" height="24" fill="#a8a8a8"/><rect x="178" y="0" width="1" height="24" fill="#ffffff"/>
<rect x="181" y="2" width="3" height="1" fill="#b4b4b4"/><rect x="181" y="4" width="3" height="1" fill="#b4b4b4"/><rect x="181" y="6" width="3" height="1" fill="#b4b4b4"/><rect x="181" y="8" width="3" height="1" fill="#b4b4b4"/><rect x="181" y="10" width="3" height="1" fill="#b4b4b4"/><rect x="181" y="12" width="3" height="1" fill="#b4b4b4"/><rect x="181" y="14" width="3" height="1" fill="#b4b4b4"/><rect x="181" y="16" width="3" height="1" fill="#b4b4b4"/><rect x="181" y="18" width="3" height="1" fill="#b4b4b4"/><rect x="181" y="20" width="3" height="1" fill="#b4b4b4"/>
<path d="M195.5 6.8V19.8M193.0 17.5H206.5" stroke="#4a4a4a" stroke-width="1.05" fill="none"/><path d="M193.7 8.2L195.5 6L197.3 8.2Z M204.9 15.8L207.3 17.5L204.9 19.2Z" fill="#4a4a4a"/>
<path d="M199 14.5H201.5M201.5 15.8V7.1M201.5 8.5H204" fill="none" stroke="#0a8a0a" stroke-width="1.1"/>
<rect x="215" y="0" width="26" height="23" fill="#f8f8f8"/><rect x="215" y="0" width="25" height="1" fill="#a0a0a0"/><rect x="215" y="0" width="1" height="22" fill="#a0a0a0"/><rect x="240" y="0" width="1" height="23" fill="#ffffff"/><rect x="215" y="22" width="26" height="1" fill="#ffffff"/>
<path d="M223.5 6.8V19.8M221.0 17.5H234.5" stroke="#4a4a4a" stroke-width="1.05" fill="none"/><path d="M221.7 8.2L223.5 6L225.3 8.2Z M232.9 15.8L235.3 17.5L232.9 19.2Z" fill="#4a4a4a"/>
<path d="M229.5 4.2V15.8" stroke="#088008" stroke-width="1.05"/>
<rect x="227.5" y="6.7" width="4" height="6.9" fill="url(#cnd)" stroke="#088008" stroke-width="1"/>
<path d="M251.6 6.8V19.8M249.1 17.5H262.6" stroke="#4a4a4a" stroke-width="1.05" fill="none"/><path d="M249.79999999999998 8.2L251.6 6L253.4 8.2Z M261.0 15.8L263.4 17.5L261.0 19.2Z" fill="#4a4a4a"/>
<path d="M250.1 14.8C252.6 12.6 254.2 9.4 256.2 9.4C258.2 9.4 259.4 12 262 13.1" fill="none" stroke="#2c9c2c" stroke-width="1.15"/>
<rect x="272" y="1" width="1" height="21" fill="#a8a8a8"/><rect x="273" y="1" width="1" height="21" fill="#ffffff"/>
<path d="M291.4 14L296.0 18.2" stroke="#b08010" stroke-width="3.5" stroke-linecap="butt"/>
<path d="M291.7 13.6L296.4 17.9" stroke="#f0dc58" stroke-width="2.1" stroke-linecap="butt"/>
<circle cx="287.0" cy="9.9" r="5.5" fill="url(#lens)" stroke="#2e7ecc" stroke-width="1.3"/>
<path d="M283.8 9.9H290.2" stroke="#3a88bc" stroke-width="2"/>
<path d="M287.0 6.7V13.1" stroke="#3a88bc" stroke-width="2"/>
<path d="M319.59999999999997 14L324.2 18.2" stroke="#b08010" stroke-width="3.5" stroke-linecap="butt"/>
<path d="M319.9 13.6L324.59999999999997 17.9" stroke="#f0dc58" stroke-width="2.1" stroke-linecap="butt"/>
<circle cx="315.2" cy="9.9" r="5.5" fill="url(#lens)" stroke="#2e7ecc" stroke-width="1.3"/>
<path d="M312.0 9.9H318.4" stroke="#3a88bc" stroke-width="2"/>
<rect x="337" y="4.1" width="8" height="7.9" fill="#2c9c1c"/>
<rect x="337" y="4.1" width="8" height="2.2" fill="#188410"/>
<rect x="338" y="6.8999999999999995" width="6" height="4.2" fill="#f6faf6"/>
<rect x="338" y="4.8999999999999995" width="1" height="1" fill="#ffffff" opacity="0.85"/>
<rect x="339" y="8.2" width="4" height="1.2" fill="#2c9c1c" opacity="0.45"/>
<rect x="339.2" y="10.399999999999999" width="3.6" height="0.8" fill="#2c9c1c"/>
<rect x="345" y="4.1" width="8" height="7.9" fill="#2450d8"/>
<rect x="345" y="4.1" width="8" height="2.2" fill="#0c2cb0"/>
<rect x="346" y="6.8999999999999995" width="6" height="4.2" fill="#f6faf6"/>
<rect x="346" y="4.8999999999999995" width="1" height="1" fill="#ffffff" opacity="0.85"/>
<rect x="347" y="8.2" width="4" height="1.2" fill="#2450d8" opacity="0.45"/>
<rect x="347.2" y="10.399999999999999" width="3.6" height="0.8" fill="#2450d8"/>
<rect x="337" y="12" width="8" height="7.9" fill="#2450d8"/>
<rect x="337" y="12" width="8" height="2.2" fill="#0c2cb0"/>
<rect x="338" y="14.8" width="6" height="4.2" fill="#f6faf6"/>
<rect x="338" y="12.8" width="1" height="1" fill="#ffffff" opacity="0.85"/>
<rect x="339" y="16.1" width="4" height="1.2" fill="#2450d8" opacity="0.45"/>
<rect x="339.2" y="18.3" width="3.6" height="0.8" fill="#2450d8"/>
<rect x="345" y="12" width="8" height="7.9" fill="#2c9c1c"/>
<rect x="345" y="12" width="8" height="2.2" fill="#188410"/>
<rect x="346" y="14.8" width="6" height="4.2" fill="#f6faf6"/>
<rect x="346" y="12.8" width="1" height="1" fill="#ffffff" opacity="0.85"/>
<rect x="347" y="16.1" width="4" height="1.2" fill="#2c9c1c" opacity="0.45"/>
<rect x="347.2" y="18.3" width="3.6" height="0.8" fill="#2c9c1c"/>
<rect x="362" y="1" width="1" height="21" fill="#a8a8a8"/><rect x="363" y="1" width="1" height="21" fill="#ffffff"/>
<rect x="367" y="0" width="26" height="23" fill="#f8f8f8"/><rect x="367" y="0" width="25" height="1" fill="#a0a0a0"/><rect x="367" y="0" width="1" height="22" fill="#a0a0a0"/><rect x="392" y="0" width="1" height="23" fill="#ffffff"/><rect x="367" y="22" width="26" height="1" fill="#ffffff"/>
<path d="M375.5 6.8V19.8M373.0 17.5H386.5" stroke="#4a4a4a" stroke-width="1.05" fill="none"/><path d="M373.7 8.2L375.5 6L377.3 8.2Z M384.9 15.8L387.3 17.5L384.9 19.2Z" fill="#4a4a4a"/>
<path d="M380.3 8.4V14.6L383.7 11.5Z" fill="#90f090" stroke="#18a018" stroke-width="1.1" stroke-linejoin="round"/>
<rect x="395" y="0" width="26" height="23" fill="#f8f8f8"/><rect x="395" y="0" width="25" height="1" fill="#a0a0a0"/><rect x="395" y="0" width="1" height="22" fill="#a0a0a0"/><rect x="420" y="0" width="1" height="23" fill="#ffffff"/><rect x="395" y="22" width="26" height="1" fill="#ffffff"/>
<path d="M403.5 6.8V19.8M401.0 17.5H414.5" stroke="#4a4a4a" stroke-width="1.05" fill="none"/><path d="M401.7 8.2L403.5 6L405.3 8.2Z M412.9 15.8L415.3 17.5L412.9 19.2Z" fill="#4a4a4a"/>
<path d="M409.5 6V15.7" stroke="#1870b0" stroke-width="1.2"/>
<path d="M410.8 11.5H415.2" stroke="#d84800" stroke-width="1.1"/><path d="M410.4 11.5L413.6 9L412.8 11.5L413.6 14Z" fill="#d84800"/>
<rect x="424" y="1" width="1" height="21" fill="#a8a8a8"/><rect x="425" y="1" width="1" height="21" fill="#ffffff"/>
<path d="M434.7 4.7H442.4L445.5 7.8V17.2H434.7Z" fill="#fcfcfc" stroke="#787878" stroke-width="1.1" stroke-linejoin="round"/>
<path d="M442.6 4.6V7.6H445.6" fill="#e0e0e0" stroke="#8c8c8c" stroke-width="0.7"/>
<path d="M438 7.4C436.6 7.4 436.8 8.4 436.8 9.4V13.8M436 10.6H438" stroke="#5a5040" stroke-width="0.9" fill="none"/>
<path d="M442.6 10.6H446.2V14.3H449.8V17.7H446.2V21.5H442.6V17.7H438.8V14.3H442.6Z" fill="url(#grn)" stroke="#0c8410" stroke-width="0.9" stroke-linejoin="round"/>
<polygon points="456,10.9 461.4,10.9 458.7,14" fill="#000"/>
<circle cx="479.9" cy="11.8" r="6.5" fill="url(#face)" stroke="url(#ring)" stroke-width="2.7"/>
<circle cx="479.9" cy="11.8" r="7.85" fill="none" stroke="#0a3c98" stroke-width="0.4" opacity="0.7"/>
<path d="M479.9 8.2V12.3H482.6" fill="none" stroke="#181818" stroke-width="1.2"/>
<circle cx="482.00" cy="8.16" r="0.38" fill="#707880"/>
<circle cx="483.54" cy="9.70" r="0.38" fill="#707880"/>
<circle cx="483.54" cy="13.90" r="0.38" fill="#707880"/>
<circle cx="482.00" cy="15.44" r="0.38" fill="#707880"/>
<circle cx="479.90" cy="16.00" r="0.38" fill="#707880"/>
<circle cx="477.80" cy="15.44" r="0.38" fill="#707880"/>
<circle cx="476.26" cy="13.90" r="0.38" fill="#707880"/>
<circle cx="475.70" cy="11.80" r="0.38" fill="#707880"/>
<circle cx="476.26" cy="9.70" r="0.38" fill="#707880"/>
<circle cx="477.80" cy="8.16" r="0.38" fill="#707880"/>
<rect x="479.2" y="14.6" width="1.5" height="0.7" fill="#4a90e8"/>
<polygon points="494.8,10.9 500.2,10.9 497.5,14" fill="#000"/>
<rect x="511.6" y="5.7" width="15" height="12.9" fill="#fdfdfd" stroke="#3674c8" stroke-width="1.1"/>
<rect x="511.1" y="5.1" width="16" height="2.4" fill="url(#ttl)"/>
<rect x="511.1" y="18.1" width="16" height="0.9" fill="#2c60b0"/>
<rect x="512.2" y="12.5" width="13.8" height="1" fill="#7ca4dc"/>
<path d="M513.2 11.4H514.8L516.6 10.2L517.8 9.4L519.6 10.4H521.4L523 9.4H525.4" fill="none" stroke="#981c08" stroke-width="1.2"/>
<path d="M513.8 16.6L515.6 15.6L517.2 16.4L519.2 15.4L521.6 14.2L523.6 15.8L525 16.8" fill="none" stroke="#0c8420" stroke-width="1.2"/>
<polygon points="534,10.9 539.4,10.9 536.7,14" fill="#000"/>
<rect x="545" y="0" width="1" height="24" fill="#a8a8a8"/><rect x="546" y="0" width="1" height="24" fill="#ffffff"/>
<rect x="549" y="2" width="3" height="1" fill="#b4b4b4"/><rect x="549" y="4" width="3" height="1" fill="#b4b4b4"/><rect x="549" y="6" width="3" height="1" fill="#b4b4b4"/><rect x="549" y="8" width="3" height="1" fill="#b4b4b4"/><rect x="549" y="10" width="3" height="1" fill="#b4b4b4"/><rect x="549" y="12" width="3" height="1" fill="#b4b4b4"/><rect x="549" y="14" width="3" height="1" fill="#b4b4b4"/><rect x="549" y="16" width="3" height="1" fill="#b4b4b4"/><rect x="549" y="18" width="3" height="1" fill="#b4b4b4"/><rect x="549" y="20" width="3" height="1" fill="#b4b4b4"/>
<rect x="555" y="0" width="26" height="23" fill="#f8f8f8"/><rect x="555" y="0" width="25" height="1" fill="#a0a0a0"/><rect x="555" y="0" width="1" height="22" fill="#a0a0a0"/><rect x="580" y="0" width="1" height="23" fill="#ffffff"/><rect x="555" y="22" width="26" height="1" fill="#ffffff"/>
<path d="M563.2 5.2L563.2 16.6L565.9 14.1L568 18.8L569.9 18L567.8 13.4L571.4 13.4Z" fill="#3c3c3c"/>
<path d="M588.2 12.4H593.8M597.2 12.4H602.8M595.5 5.2V10.8M595.5 14V19.4" stroke="#505050" stroke-width="1.1"/>
<rect x="595" y="12" width="1" height="1" fill="#505050"/>
<rect x="612" y="1" width="1" height="21" fill="#a8a8a8"/><rect x="613" y="1" width="1" height="21" fill="#ffffff"/>
<path d="M629.5 6.4V18.8" stroke="#505050" stroke-width="1.1"/>
<path d="M652 12.4H663.8" stroke="#505050" stroke-width="1.1"/>
<path d="M680 18.8L691.8 7.2" stroke="#505050" stroke-width="1.1"/>
<g stroke="#505050" stroke-width="0.8" fill="none">
<path d="M705.9 13.4L713.8 6M711 18.8L720.3 10.2"/>
</g>
<path d="M708.3 18.6L708.5 11.6L711.4 15L711.6 10.4L714.5 14.4L714.7 8.4L717.9 10.8L717.6 4.2" fill="none" stroke="#404040" stroke-width="1.25" stroke-linejoin="round"/>
<text x="716.8" y="20.8" font-family="Liberation Sans, sans-serif" font-size="6.6" font-weight="bold" fill="#303030">E</text>
<rect x="735.00" y="4.85" width="1.1" height="1.1" fill="#484848"/>
<rect x="737.02" y="4.85" width="1.1" height="1.1" fill="#484848"/>
<rect x="739.04" y="4.85" width="1.1" height="1.1" fill="#484848"/>
<rect x="741.06" y="4.85" width="1.1" height="1.1" fill="#484848"/>
<rect x="743.08" y="4.85" width="1.1" height="1.1" fill="#484848"/>
<rect x="745.10" y="4.85" width="1.1" height="1.1" fill="#484848"/>
<rect x="747.12" y="4.85" width="1.1" height="1.1" fill="#484848"/>
<rect x="735.00" y="7.85" width="1.1" height="1.1" fill="#484848"/>
<rect x="737.02" y="7.85" width="1.1" height="1.1" fill="#484848"/>
<rect x="739.04" y="7.85" width="1.1" height="1.1" fill="#484848"/>
<rect x="741.06" y="7.85" width="1.1" height="1.1" fill="#484848"/>
<rect x="743.08" y="7.85" width="1.1" height="1.1" fill="#484848"/>
<rect x="745.10" y="7.85" width="1.1" height="1.1" fill="#484848"/>
<rect x="747.12" y="7.85" width="1.1" height="1.1" fill="#484848"/>
<rect x="735.00" y="11.95" width="1.1" height="1.1" fill="#484848"/>
<rect x="737.02" y="11.95" width="1.1" height="1.1" fill="#484848"/>
<rect x="739.04" y="11.95" width="1.1" height="1.1" fill="#484848"/>
<rect x="741.06" y="11.95" width="1.1" height="1.1" fill="#484848"/>
<rect x="743.08" y="11.95" width="1.1" height="1.1" fill="#484848"/>
<rect x="745.10" y="11.95" width="1.1" height="1.1" fill="#484848"/>
<rect x="747.12" y="11.95" width="1.1" height="1.1" fill="#484848"/>
<rect x="735.00" y="15.95" width="1.1" height="1.1" fill="#484848"/>
<rect x="737.02" y="15.95" width="1.1" height="1.1" fill="#484848"/>
<rect x="739.04" y="15.95" width="1.1" height="1.1" fill="#484848"/>
<rect x="741.06" y="15.95" width="1.1" height="1.1" fill="#484848"/>
<rect x="743.08" y="15.95" width="1.1" height="1.1" fill="#484848"/>
<text x="744.9" y="20.8" font-family="Liberation Sans, sans-serif" font-size="6.6" font-weight="bold" fill="#303030">F</text>
<text x="765.3" y="16.9" font-family="Liberation Sans, sans-serif" font-size="12.4" fill="#484848">A</text>
<rect x="791.90" y="5.9" width="1.1" height="1.1" fill="#484848"/><rect x="791.90" y="17.5" width="1.1" height="1.1" fill="#484848"/>
<rect x="793.73" y="5.9" width="1.1" height="1.1" fill="#484848"/><rect x="793.73" y="17.5" width="1.1" height="1.1" fill="#484848"/>
<rect x="795.56" y="5.9" width="1.1" height="1.1" fill="#484848"/><rect x="795.56" y="17.5" width="1.1" height="1.1" fill="#484848"/>
<rect x="797.39" y="5.9" width="1.1" height="1.1" fill="#484848"/><rect x="797.39" y="17.5" width="1.1" height="1.1" fill="#484848"/>
<rect x="799.22" y="5.9" width="1.1" height="1.1" fill="#484848"/><rect x="799.22" y="17.5" width="1.1" height="1.1" fill="#484848"/>
<rect x="801.05" y="5.9" width="1.1" height="1.1" fill="#484848"/><rect x="801.05" y="17.5" width="1.1" height="1.1" fill="#484848"/>
<rect x="802.88" y="5.9" width="1.1" height="1.1" fill="#484848"/><rect x="802.88" y="17.5" width="1.1" height="1.1" fill="#484848"/>
<rect x="791.9" y="7.83" width="1.1" height="1.1" fill="#484848"/><rect x="802.9" y="7.83" width="1.1" height="1.1" fill="#484848"/>
<rect x="791.9" y="9.76" width="1.1" height="1.1" fill="#484848"/><rect x="802.9" y="9.76" width="1.1" height="1.1" fill="#484848"/>
<rect x="791.9" y="11.69" width="1.1" height="1.1" fill="#484848"/><rect x="802.9" y="11.69" width="1.1" height="1.1" fill="#484848"/>
<rect x="791.9" y="13.62" width="1.1" height="1.1" fill="#484848"/><rect x="802.9" y="13.62" width="1.1" height="1.1" fill="#484848"/>
<rect x="791.9" y="15.55" width="1.1" height="1.1" fill="#484848"/><rect x="802.9" y="15.55" width="1.1" height="1.1" fill="#484848"/>
<rect x="791" y="5.2" width="2.6" height="1.3" fill="#404040"/>
<text transform="translate(793.6 16.6) scale(1.2 1)" font-family="Liberation Sans, sans-serif" font-size="10.4" fill="#484848" stroke="#484848" stroke-width="0.25">T</text>
<path d="M822.5 5.8L826 9.7H824.2V10.8H820.9V9.7H819Z" fill="#484848"/>
<path d="M829.5 18.8L825.9 15H827.8V14.1H831.2V15H833.1Z" fill="#484848"/>
<path d="M821.4 14L823.4 15.8L827.9 10.2" fill="none" stroke="#484848" stroke-width="1.25"/>
<polygon points="840,10.9 845.4,10.9 842.7,14" fill="#000"/>
<rect x="851" y="0" width="1" height="24" fill="#a8a8a8"/><rect x="852" y="0" width="1" height="24" fill="#ffffff"/>
<rect x="855" y="2" width="3" height="1" fill="#b4b4b4"/><rect x="855" y="4" width="3" height="1" fill="#b4b4b4"/><rect x="855" y="6" width="3" height="1" fill="#b4b4b4"/><rect x="855" y="8" width="3" height="1" fill="#b4b4b4"/><rect x="855" y="10" width="3" height="1" fill="#b4b4b4"/><rect x="855" y="12" width="3" height="1" fill="#b4b4b4"/><rect x="855" y="14" width="3" height="1" fill="#b4b4b4"/><rect x="855" y="16" width="3" height="1" fill="#b4b4b4"/><rect x="855" y="18" width="3" height="1" fill="#b4b4b4"/><rect x="855" y="20" width="3" height="1" fill="#b4b4b4"/>
<rect x="1029" y="0" width="26" height="23" fill="#f8f8f8"/><rect x="1029" y="0" width="25" height="1" fill="#a0a0a0"/><rect x="1029" y="0" width="1" height="22" fill="#a0a0a0"/><rect x="1054" y="0" width="1" height="23" fill="#ffffff"/><rect x="1029" y="22" width="26" height="1" fill="#ffffff"/>
<rect x="1112" y="0" width="1" height="24" fill="#a8a8a8"/><rect x="1113" y="0" width="1" height="24" fill="#ffffff"/>
<path d="M1579.3 12.8L1575.6 16.6" stroke="#2458d4" stroke-width="2.6" stroke-linecap="round"/>
<circle cx="1582.6" cy="9.5" r="3.9" fill="#f4f6fc" stroke="#2458d4" stroke-width="1.2"/>
<path d="M1612.6 13.2L1617.9 13.2L1618.3 15.6L1615 13.2Z" fill="#707070"/>
<ellipse cx="1615.1" cy="8.8" rx="6.5" ry="4.5" fill="url(#bub)" stroke="#8c8c8c" stroke-width="0.9"/>
<path d="M1606.8 16.2L1603.6 18.6L1604.4 15.6Z" fill="#707070"/>
<ellipse cx="1606.3" cy="12.9" rx="5.1" ry="3.8" fill="url(#bub)" stroke="#8c8c8c" stroke-width="0.9"/>
</svg>
<div class="tbt" style="left:-7px;top:3.4px;font-size:12px;color:#000;">单</div>
<div class="tbt" style="left:122.6px;top:2.3px;font-size:11.6px;color:#000;">自动交易</div>
<div class="tf" style="left:858.0px;">M1</div>
<div class="tf" style="left:886.1px;">M5</div>
<div class="tf" style="left:914.5px;">M15</div>
<div class="tf" style="left:942.5px;">M30</div>
<div class="tf" style="left:970.5px;">H1</div>
<div class="tf" style="left:997.8px;">H4</div>
<div class="tf" style="left:1026.2px;">D1</div>
<div class="tf" style="left:1055.2px;">W1</div>
<div class="tf" style="left:1082.3px;">MN</div>
<style>
.tbt{position:absolute;line-height:17px;white-space:nowrap;font-family:"Liberation Sans","Noto Sans CJK SC",sans-serif;}
.tf{position:absolute;top:6.1px;width:30px;text-align:center;font-size:9.3px;line-height:12px;color:#444;font-family:"Liberation Sans",sans-serif;}
</style>
</body></html>
